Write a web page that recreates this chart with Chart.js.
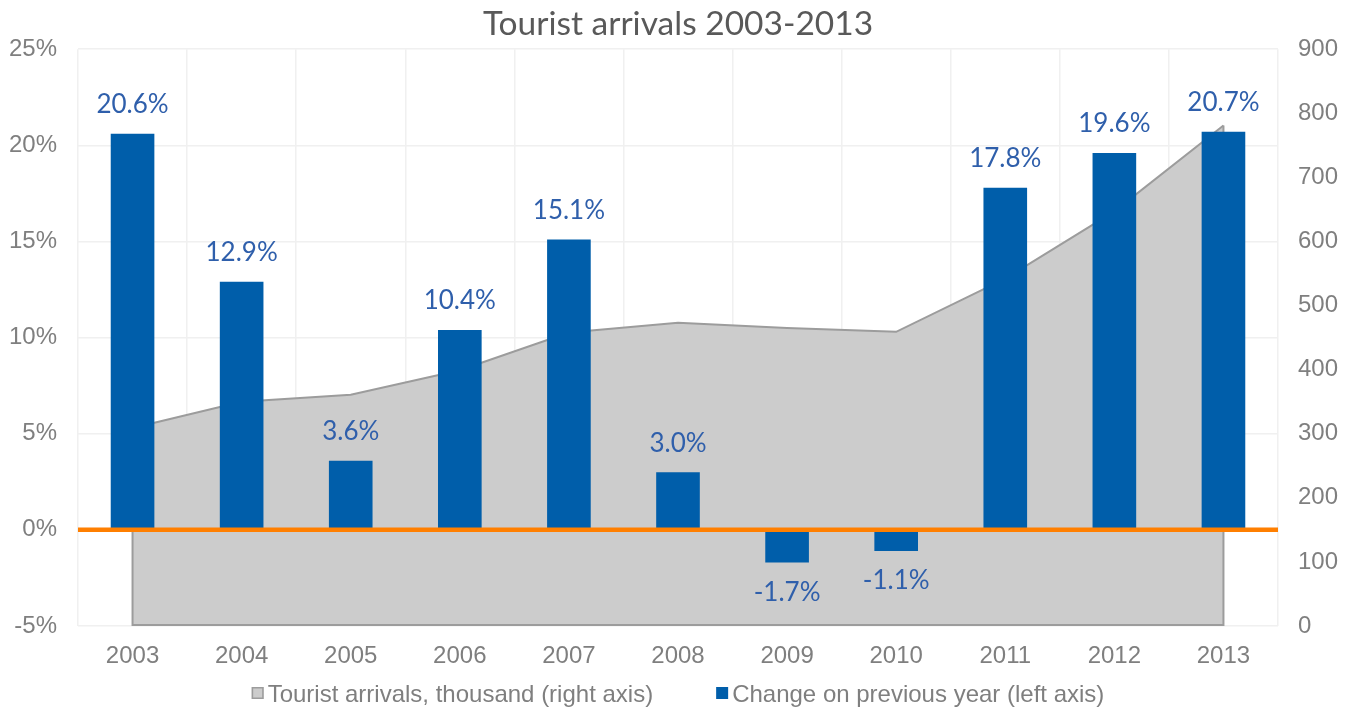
<!DOCTYPE html>
<html>
<head>
<meta charset="utf-8">
<title>Tourist arrivals 2003-2013</title>
<script src="https://cdn.jsdelivr.net/npm/chart.js@4/dist/chart.umd.min.js"></script>
<style>
    html, body {
        margin: 0;
        padding: 0;
        background: #ffffff;
    }

    #contenedor {
        position: relative;
        width: 1356px;
        height: 709px;
    }
</style>
</head>
<body>
<div id="contenedor">
    <canvas id="grafico"></canvas>
</div>
<script>
const anios = ["2003", "2004", "2005", "2006", "2007", "2008", "2009", "2010", "2011", "2012", "2013"];
const llegadas = [309, 350, 361, 399, 458, 473, 465, 459, 542, 647, 781];
const variacion = [20.6, 12.9, 3.6, 10.4, 15.1, 3.0, -1.7, -1.1, 17.8, 19.6, 20.7];
const ticksIzquierda = [-5, 0, 5, 10, 15, 20, 25];
const ticksDerecha = [0, 100, 200, 300, 400, 500, 600, 700, 800, 900];

const colorBarra = "#005eaa";
const colorArea = "#cccccc";
const colorBordeArea = "#9c9c9c";
const colorTexto = "#7f7f7f";
const colorEtiqueta = "#2f5fab";
const fuenteEjes = "24px 'Liberation Sans'";

// Etiquetas de porcentaje encima (o debajo) de cada barra.
const etiquetasBarras = {
    id: "etiquetasBarras",
    afterDatasetsDraw(chart) {
        const meta = chart.getDatasetMeta(0);
        const ctx = chart.ctx;

        ctx.save();
        ctx.font = "26px Lato";
        ctx.fillStyle = colorEtiqueta;
        ctx.textAlign = "center";
        ctx.textBaseline = "middle";

        meta.data.forEach((barra, i) => {
            const valor = variacion[i];
            const texto = valor.toFixed(1) + "%";
            const y = valor >= 0 ? barra.y - 29 : barra.y + 30;
            ctx.fillText(texto, barra.x, y);
        });

        ctx.restore();
    }
};

// Contorno del área (lados y base) y línea naranja del 0 %.
const lineaCero = {
    id: "lineaCero",
    beforeDatasetDraw(chart, args) {
        if (args.index !== 0) {
            return;
        }

        const puntos = chart.getDatasetMeta(1).data;
        const base = chart.scales.y1.getPixelForValue(0);
        const primero = puntos[0];
        const ultimo = puntos[puntos.length - 1];
        const ctx = chart.ctx;

        ctx.save();
        ctx.strokeStyle = colorBordeArea;
        ctx.lineWidth = 2;
        ctx.beginPath();
        ctx.moveTo(primero.x, primero.y);
        ctx.lineTo(primero.x, base - 1);
        ctx.lineTo(ultimo.x, base - 1);
        ctx.lineTo(ultimo.x, ultimo.y);
        ctx.stroke();
        ctx.restore();
    },
    afterDatasetsDraw(chart) {
        const area = chart.chartArea;
        const y = chart.scales.y.getPixelForValue(0);
        const ctx = chart.ctx;

        ctx.save();
        ctx.strokeStyle = "#ff7f00";
        ctx.lineWidth = 4.5;
        ctx.beginPath();
        ctx.moveTo(area.left, y);
        ctx.lineTo(area.right, y);
        ctx.stroke();
        ctx.restore();
    }
};

// Leyenda inferior: área primero, barras después.
const leyenda = {
    id: "leyenda",
    afterDraw(chart) {
        const ctx = chart.ctx;
        const items = [
            { texto: chart.data.datasets[1].label, relleno: colorArea, borde: colorBordeArea },
            { texto: chart.data.datasets[0].label, relleno: colorBarra, borde: null }
        ];
        const caja = 12;
        const separacion = 4;
        const entreItems = 63;
        const yTexto = 695;
        const yCaja = 693;

        ctx.save();
        ctx.font = fuenteEjes;
        ctx.textBaseline = "middle";
        ctx.textAlign = "left";

        const anchos = items.map(item => ctx.measureText(item.texto).width);
        const total = anchos.reduce((a, b) => a + b, 0) + items.length * (caja + separacion) + entreItems;
        let x = (chart.width - total) / 2;

        items.forEach((item, i) => {
            ctx.fillStyle = item.relleno;
            ctx.fillRect(x, yCaja - caja / 2, caja, caja);

            if (item.borde) {
                ctx.strokeStyle = item.borde;
                ctx.lineWidth = 1.5;
                ctx.strokeRect(x + 0.75, yCaja - caja / 2 + 0.75, caja - 1.5, caja - 1.5);
            }

            x += caja + separacion;
            ctx.fillStyle = colorTexto;
            ctx.fillText(item.texto, x, yTexto);
            x += anchos[i] + entreItems;
        });

        ctx.restore();
    }
};

new Chart(document.getElementById("grafico"), {
    type: "bar",

    data: {
        labels: anios,
        datasets: [
            {
                label: "Change on previous year (left axis)",
                data: variacion,
                yAxisID: "y",
                backgroundColor: colorBarra,
                borderWidth: 0,
                barPercentage: 0.4,
                categoryPercentage: 1,
                order: 0
            },
            {
                type: "line",
                label: "Tourist arrivals, thousand (right axis)",
                data: llegadas,
                yAxisID: "y1",
                backgroundColor: colorArea,
                borderColor: colorBordeArea,
                borderWidth: 2,
                pointRadius: 0,
                tension: 0,
                fill: "start",
                order: 1
            }
        ]
    },

    options: {
        responsive: true,
        maintainAspectRatio: false,
        animation: false,
        devicePixelRatio: 1,

        layout: {
            padding: { top: 0, left: 0, right: 0, bottom: 35 }
        },

        plugins: {
            title: {
                display: true,
                text: "Tourist arrivals 2003-2013",
                color: "#595959",
                font: { family: "Lato", size: 33.5, weight: "normal" },
                padding: { top: 4, bottom: 5 }
            },

            legend: {
                display: false
            },

            tooltip: {
                enabled: false
            }
        },

        scales: {
            x: {
                offset: true,
                grid: {
                    offset: true,
                    color: "#f0f0f0",
                    lineWidth: 1.5,
                    drawTicks: false
                },
                border: { display: false },
                ticks: {
                    color: colorTexto,
                    font: { family: "Liberation Sans", size: 24 },
                    padding: 16,
                    maxRotation: 0
                },
                afterFit: axis => {
                    axis.height = 48;
                }
            },

            y: {
                position: "left",
                min: -5,
                max: 25,
                afterBuildTicks: axis => {
                    axis.ticks = ticksIzquierda.map(v => ({ value: v }));
                },
                grid: {
                    color: "#f0f0f0",
                    lineWidth: 1.5,
                    drawTicks: false
                },
                border: { display: false },
                ticks: {
                    color: colorTexto,
                    font: { family: "Liberation Sans", size: 24 },
                    padding: 21,
                    callback: value => value + "%"
                },
                afterFit: axis => {
                    axis.width = 78;
                }
            },

            y1: {
                position: "right",
                min: 0,
                max: 900,
                afterBuildTicks: axis => {
                    axis.ticks = ticksDerecha.map(v => ({ value: v }));
                },
                grid: {
                    drawOnChartArea: false,
                    drawTicks: false
                },
                border: { display: false },
                ticks: {
                    color: colorTexto,
                    font: { family: "Liberation Sans", size: 24 },
                    padding: 20
                },
                afterFit: axis => {
                    axis.width = 78;
                }
            }
        }
    },

    plugins: [lineaCero, etiquetasBarras, leyenda]
});
</script>
</body>
</html>
